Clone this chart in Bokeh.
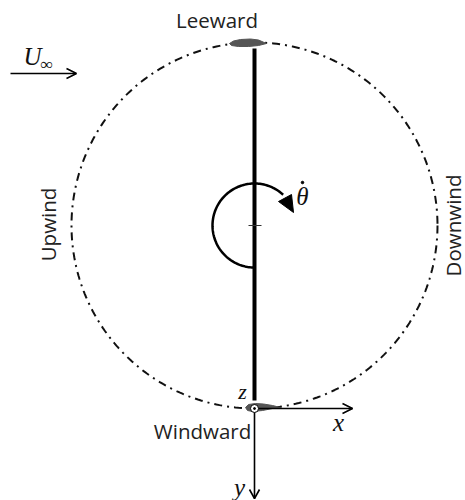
from bokeh.plotting import figure
from bokeh.embed import file_html
from bokeh.resources import INLINE
from bokeh.core.properties import value
from bokeh.models import Range1d
import numpy as np

# diagram geometry, in reference pixels
center = (254, 225)
orbit_radius = 183
omega_radius = 42
rod_x = [254, 254]
rod_y = [48, 400]
tick_x = [248, 261]
tick_y = [225, 225]
foil_top_x = [229, 233, 240, 250, 258, 266, 258, 248, 238, 231]
foil_top_y = [43, 40.5, 39, 38.5, 39.5, 43, 45, 46, 46, 45]
foil_bot_x = [245, 248, 255, 263, 272, 280, 272, 262, 252, 247]
foil_bot_y = [407, 404, 403, 403.5, 405, 407, 408, 410, 411, 410]
freestream_x = [10, 75]
freestream_y = [73, 73]
freestream_head_x = [66, 76, 66]
freestream_head_y = [68, 73, 78]
x_axis_x = [254, 352]
x_axis_y = [408, 408]
x_head_x = [342, 352, 342]
x_head_y = [403, 408, 413]
y_axis_x = [254, 254]
y_axis_y = [408, 498]
y_head_x = [249, 254, 259]
y_head_y = [489, 498, 489]
omega_head_x = [291, 278, 293]
omega_head_y = [194, 201, 212]
labels = ["Leeward", "Windward"]
labels_x = [216.5, 202]
labels_y = [19.5, 430.5]
rot_labels = ["Upwind", "Downwind"]
rot_x = [47, 452]
rot_y = [224, 225]
math_labels = ["U", "∞", "z", "x", "y", "θ"]
math_x = [32, 46, 242, 338, 239, 302]
math_y = [56, 64, 391, 422, 487, 196]
math_sizes = ["25px", "17px", "22px", "25px", "25px", "25px"]
theta_dot_x = [302]
theta_dot_y = [182]

p = figure(width=465, height=500, output_backend="svg", toolbar_location=None,
           x_range=Range1d(0, 465), y_range=Range1d(500, 0),
           min_border=0, outline_line_color=None)
p.xaxis.visible = False
p.yaxis.visible = False
p.grid.visible = False

th = np.linspace(0, 2 * np.pi, 361)
p.line(center[0] + orbit_radius * np.cos(th), center[1] + orbit_radius * np.sin(th),
       line_color="#111111", line_width=2, line_dash="8 5 2 5")
p.line(rod_x, rod_y, line_color="black", line_width=4)
p.line(tick_x, tick_y, line_color="#333333", line_width=1)
a = np.radians(np.linspace(-47, -270, 120))
p.line(center[0] + omega_radius * np.cos(a), center[1] + omega_radius * np.sin(a),
       line_color="black", line_width=2.5)
p.patch(omega_head_x, omega_head_y, fill_color="black", line_color="black", line_width=1)
p.patch(foil_top_x, foil_top_y, fill_color="#555555", line_color="#555555")
p.patch(foil_bot_x, foil_bot_y, fill_color="#555555", line_color="#555555")

for xs, ys, hx, hy in [(freestream_x, freestream_y, freestream_head_x, freestream_head_y),
                       (x_axis_x, x_axis_y, x_head_x, x_head_y),
                       (y_axis_x, y_axis_y, y_head_x, y_head_y)]:
    p.line(xs, ys, line_color="black", line_width=1.6)
    p.line(hx, hy, line_color="black", line_width=1.6)

p.scatter([254], [408], size=8, marker="circle", fill_color="white", line_color="black", line_width=1)
p.scatter([254], [408], size=2, marker="circle", fill_color="black", line_color="black")
p.scatter(theta_dot_x, theta_dot_y, size=2.5, marker="circle", fill_color="black", line_color="black")

p.text(labels_x, labels_y, text=labels, text_font=value("Open Sans"), text_font_size="20.5px",
       text_align="center", text_baseline="middle", text_color="#222222")
p.text(rot_x, rot_y, text=rot_labels, text_font=value("Open Sans"), text_font_size="20.5px",
       text_align="center", text_baseline="middle", text_color="#222222", angle=np.pi / 2)
for t, x, y, s in zip(math_labels, math_x, math_y, math_sizes):
    p.text([x], [y], text=[t], text_font=value("Liberation Serif"), text_font_size=s,
           text_font_style="italic", text_align="center", text_baseline="middle", text_color="#111111")

open("out.html", "w").write(file_html(p, INLINE))
